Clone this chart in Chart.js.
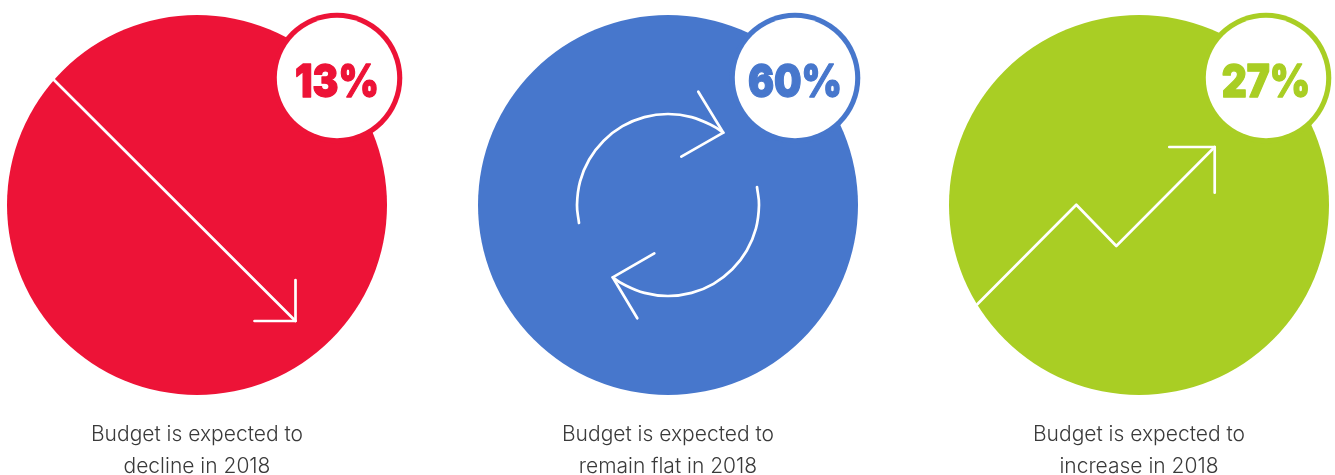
<!DOCTYPE html>
<html>
<head>
<meta charset="utf-8">
<title>Budget outlook 2018</title>
<style>
  html, body { margin: 0; padding: 0; background: #fff; overflow: hidden; }
  canvas { display: block; }
</style>
</head>
<body>
<canvas id="budget-chart" width="1335" height="475"></canvas>
<script src="https://cdn.jsdelivr.net/npm/chart.js@4"></script>
<script>
// Survey results
const outcomes = ["decline", "flat", "increase"];
const shares = [13, 60, 27];
const captions = [
    ["Budget is expected to", "decline in 2018"],
    ["Budget is expected to", "remain flat in 2018"],
    ["Budget is expected to", "increase in 2018"]
];
const colors = ["#ED1337", "#4777CC", "#A9CE24"];

// Layout, in axis units (the axes run 1:1 with the canvas)
const centerX = [197, 668, 1139];
const centerY = 205;
const discRadius = 190;
const badgeX = [337, 795, 1266];
const badgeY = 78;
const badgeRadius = 60.2;
const ringRadius = 65.3;

// Icon outlines
const declineLine = [[54, 80], [295.5, 321]];
const declineHead = [[295.5, 280], [295.5, 321], [254.5, 321]];
const flatArcTop = [[579, 223], [577, 205], [580.1, 181.4], [589.2, 159.5], [603.7, 140.7], [622.5, 126.2],
    [644.4, 117.1], [668, 114], [691.6, 117.1], [713.5, 126.2], [723.3, 132.7]];
const flatHeadTop = [[698.3, 91.7], [723.3, 132.7], [681.3, 156.7]];
const flatArcBottom = [[757, 187], [759, 205], [755.9, 228.6], [746.8, 250.5], [732.3, 269.3], [713.5, 283.8],
    [691.6, 292.9], [668, 296], [644.4, 292.9], [622.5, 283.8], [612.7, 277.3]];
const flatHeadBottom = [[654.3, 253.3], [612.7, 277.3], [637.3, 318.3]];
const increaseLine = [[977.3, 304.3], [1076.3, 204.7], [1116.3, 246], [1214.7, 147]];
const increaseHead = [[1169.3, 147], [1214.7, 147], [1214.7, 192.7]];

function iconLine(points, tension) {
    return {
        type: "line",
        order: 1,
        clip: false,
        data: points.map(p => ({ x: p[0], y: p[1] })),
        borderColor: "#fff",
        borderWidth: 2.7,
        borderCapStyle: "round",
        borderJoinStyle: "round",
        tension: tension || 0,
        pointRadius: 0,
        fill: false
    };
}

function bubbleSet(xs, y, r, fill, order) {
    return {
        type: "bubble",
        order: order,
        clip: false,
        data: xs.map(x => ({ x: x, y: y, r: r })),
        backgroundColor: fill,
        borderWidth: 0
    };
}

// Percentages printed inside the white badges, squeezed sideways and stroked to stay heavy
const shareLabels = {
    id: "shareLabels",
    afterDatasetsDraw(chart) {
        const ctx = chart.ctx;
        shares.forEach((value, i) => {
            ctx.save();
            ctx.font = "900 45px Inter";
            ctx.textAlign = "center";
            ctx.textBaseline = "alphabetic";
            ctx.fillStyle = colors[i];
            ctx.strokeStyle = colors[i];
            ctx.lineWidth = 1.3;
            ctx.lineJoin = "round";
            ctx.translate(chart.scales.x.getPixelForValue(badgeX[i]), chart.scales.y.getPixelForValue(badgeY + 18.5));
            ctx.scale(0.86, 1);
            ctx.fillText(value + "%", 0, 0);
            ctx.strokeText(value + "%", 0, 0);
            ctx.restore();
        });
    }
};

new Chart(document.getElementById("budget-chart"), {
    type: "bubble",
    data: {
        labels: outcomes,
        datasets: [
            bubbleSet(centerX, centerY, discRadius, colors, 4),
            bubbleSet(badgeX, badgeY, ringRadius, colors, 3),
            bubbleSet(badgeX, badgeY, badgeRadius, "#fff", 2),
            iconLine(declineLine),
            iconLine(declineHead),
            iconLine(flatArcTop, 0.4),
            iconLine(flatHeadTop),
            iconLine(flatArcBottom, 0.4),
            iconLine(flatHeadBottom),
            iconLine(increaseLine),
            iconLine(increaseHead)
        ]
    },
    options: {
        responsive: false,
        animation: false,
        events: [],
        layout: { padding: 0, autoPadding: false },
        plugins: { legend: { display: false }, tooltip: { enabled: false } },
        scales: {
            x: {
                type: "linear",
                min: 0,
                max: 1335,
                grid: { display: false },
                border: { display: false },
                afterBuildTicks(scale) { scale.ticks = centerX.map(v => ({ value: v })); },
                afterFit(scale) { scale.height = 64; },
                ticks: {
                    autoSkip: false,
                    maxRotation: 0,
                    padding: 0,
                    color: "#3a3a3a",
                    font: { family: "Inter", weight: 300, size: 21, lineHeight: 1.52 },
                    callback: (value, i) => captions[i]
                }
            },
            y: { display: false, reverse: true, min: 0, max: 411 }
        }
    },
    plugins: [shareLabels]
});
</script>
</body>
</html>
